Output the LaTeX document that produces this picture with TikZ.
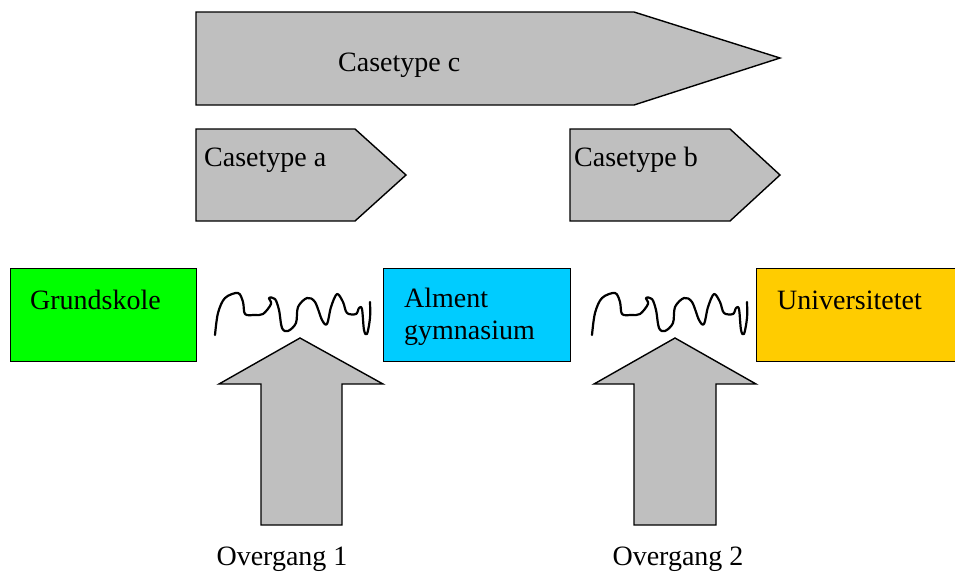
\documentclass[tikz,border=0pt]{standalone}
\usepackage{fontspec}
\setmainfont{Liberation Serif}
\begin{document}
\begin{tikzpicture}[x=1pt,y=-1pt,
  shapeline/.style={draw=black,line width=1.4pt,fill=gray!50!white,line join=miter},
  boxline/.style={draw=black,line width=1.4pt},
  lbl/.style={font=\fontsize{28}{31}\selectfont,inner sep=0pt,anchor=west},
  squig/.style={line width=2.2pt,line cap=round,line join=round}]
\useasboundingbox (0,0) rectangle (955,576);
% pentagon arrows
\draw[shapeline] (196,12) -- (634,12) -- (780,58) -- (634,105) -- (196,105) -- cycle;
\draw[shapeline] (196,129) -- (355,129) -- (406,175) -- (355,221) -- (196,221) -- cycle;
\draw[shapeline] (570,129) -- (730,129) -- (780,175) -- (730,221) -- (570,221) -- cycle;
\node[lbl] (cc) at (338,65) {Casetype c};
\node[lbl] (ca) at (204,160) {Casetype a};
\node[lbl] (cb) at (574,160) {Casetype b};
% boxes
\node[boxline,fill={rgb,255:red,0;green,255;blue,0},minimum width=186pt,minimum height=93pt,anchor=north west,inner sep=0pt] (gs) at (10,268) {};
\node[boxline,fill={rgb,255:red,0;green,204;blue,255},minimum width=187pt,minimum height=93pt,anchor=north west,inner sep=0pt] (ag) at (383,268) {};
\node[boxline,fill={rgb,255:red,255;green,204;blue,0},minimum width=202pt,minimum height=93pt,anchor=north west,inner sep=0pt] (un) at (756,268) {};
\node[lbl] (gst) at (30,300) {Grundskole};
\node[lbl,align=left,anchor=north west] (agt) at (404,288) {Alment\\[1pt]gymnasium};
\node[lbl] (unt) at (777,300) {Universitetet};
% up arrows
\draw[shapeline] (300,338) -- (383,384) -- (342,384) -- (342,525) -- (261,525) -- (261,384) -- (219,384) -- cycle;
\draw[shapeline] (675,338) -- (756,384) -- (716,384) -- (716,525) -- (634,525) -- (634,384) -- (594,384) -- cycle;
\node[lbl,anchor=center] (o1) at (282,559) {Overgang 1};
\node[lbl,anchor=center] (o2) at (678,559) {Overgang 2};
% squiggles
\foreach \dx in {0,377}{
\draw[squig,xshift=\dx] plot[smooth,tension=0.55] coordinates {
(215,335) (218,313) (225,298) (238,293) (243,302) (245,314) (254,315) (263,314) (271,304) (269,298) (275,299) (279,310) (282,328) (288,331) (296,323) (298,307) (307,298) (315,302) (322,320) (327,324) (331,307) (337,294) (343,302) (347,313) (356,314) (359,308) (362,309) (364,330) (367,334) (370,318) (370,302)};
}
\end{tikzpicture}
\end{document}
